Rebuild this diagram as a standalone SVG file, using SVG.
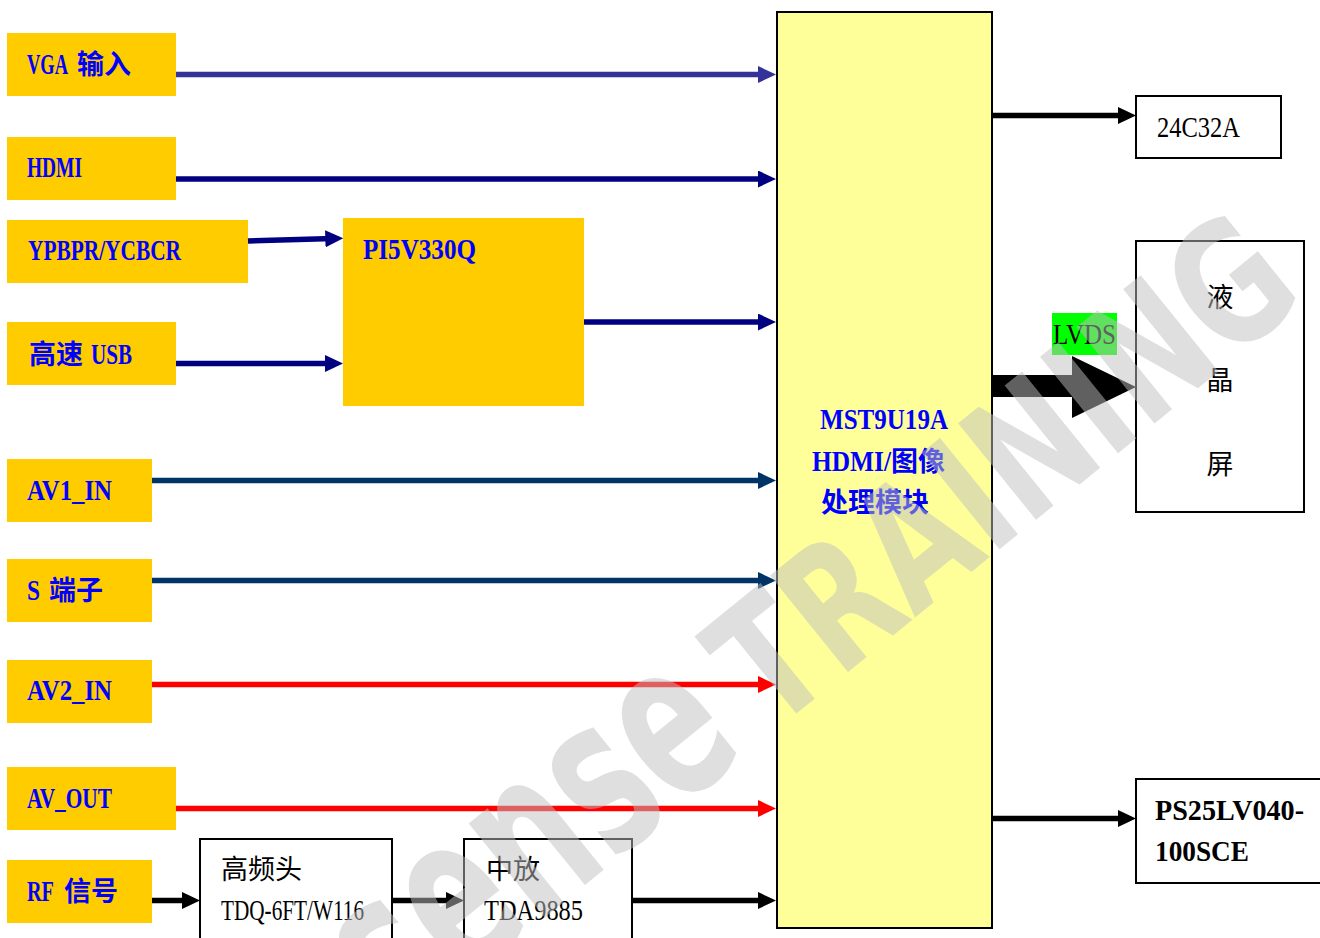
<svg xmlns="http://www.w3.org/2000/svg" width="1320" height="938" viewBox="0 0 1320 938">
<style>
.inbox{fill:#FFCC00}
.box{fill:#FFFFFF;stroke:#000000;stroke-width:2}
.lat{font-family:"Liberation Serif","Noto Sans CJK SC",serif;font-weight:bold;fill:#0000FF;font-size:30px}
.cjk{font-family:"Noto Sans CJK SC","Liberation Serif",sans-serif;font-weight:bold;fill:#0000FF;font-size:27px}
.blat{font-family:"Liberation Serif","Noto Sans CJK SC",serif;fill:#000000;font-size:30px}
.bcjk{font-family:"Noto Sans CJK SC","Liberation Serif",sans-serif;fill:#000000;font-size:27px}
.ln{fill:none;stroke-width:5.5}
.wm{font-family:"DejaVu Sans","Liberation Sans",sans-serif;font-weight:bold;fill:#C0C0C0;opacity:0.5}
</style>
<defs>
<marker id="aIndigo" markerUnits="userSpaceOnUse" markerWidth="18" markerHeight="17" refX="8" refY="8.5" orient="auto"><path d="M0,0 L18,8.5 L0,17 z" fill="#333399"/></marker>
<marker id="aNavy" markerUnits="userSpaceOnUse" markerWidth="18" markerHeight="17" refX="8" refY="8.5" orient="auto"><path d="M0,0 L18,8.5 L0,17 z" fill="#000080"/></marker>
<marker id="aTeal" markerUnits="userSpaceOnUse" markerWidth="18" markerHeight="17" refX="8" refY="8.5" orient="auto"><path d="M0,0 L18,8.5 L0,17 z" fill="#003366"/></marker>
<marker id="aRed" markerUnits="userSpaceOnUse" markerWidth="18" markerHeight="17" refX="8" refY="8.5" orient="auto"><path d="M0,0 L18,8.5 L0,17 z" fill="#FF0000"/></marker>
<marker id="aBlack" markerUnits="userSpaceOnUse" markerWidth="18" markerHeight="17" refX="8" refY="8.5" orient="auto"><path d="M0,0 L18,8.5 L0,17 z" fill="#000000"/></marker>
</defs>
<rect width="1320" height="938" fill="#FFFFFF"/>

<g id="vga">
<rect class="inbox" x="7" y="33" width="169" height="63"/>
<text class="lat" x="27" y="74" textLength="41" lengthAdjust="spacingAndGlyphs">VGA</text>
<text class="cjk" x="77" y="74">输入</text>
</g>
<g id="hdmi">
<rect class="inbox" x="7" y="137" width="169" height="63"/>
<text class="lat" x="27" y="177" textLength="55" lengthAdjust="spacingAndGlyphs">HDMI</text>
</g>
<g id="ypbpr">
<rect class="inbox" x="7" y="220" width="241" height="63"/>
<text class="lat" x="28" y="260" textLength="153" lengthAdjust="spacingAndGlyphs">YPBPR/YCBCR</text>
</g>
<g id="usb">
<rect class="inbox" x="7" y="322" width="169" height="63"/>
<text class="cjk" x="29" y="364">高速</text>
<text class="lat" x="91" y="364" textLength="41" lengthAdjust="spacingAndGlyphs">USB</text>
</g>
<g id="pi5v330q">
<rect class="inbox" x="343" y="218" width="241" height="188"/>
<text class="lat" x="363" y="259" textLength="113" lengthAdjust="spacingAndGlyphs">PI5V330Q</text>
</g>
<g id="av1">
<rect class="inbox" x="7" y="459" width="145" height="63"/>
<text class="lat" x="27" y="500" textLength="85" lengthAdjust="spacingAndGlyphs">AV1_IN</text>
</g>
<g id="sterm">
<rect class="inbox" x="7" y="559" width="145" height="63"/>
<text class="lat" x="27" y="600" textLength="13" lengthAdjust="spacingAndGlyphs">S</text>
<text class="cjk" x="49" y="600">端子</text>
</g>
<g id="av2">
<rect class="inbox" x="7" y="660" width="145" height="63"/>
<text class="lat" x="27" y="700" textLength="85" lengthAdjust="spacingAndGlyphs">AV2_IN</text>
</g>
<g id="avout">
<rect class="inbox" x="7" y="767" width="169" height="63"/>
<text class="lat" x="27" y="808" textLength="85" lengthAdjust="spacingAndGlyphs">AV_OUT</text>
</g>
<g id="rf">
<rect class="inbox" x="7" y="860" width="145" height="63"/>
<text class="lat" x="27" y="901" textLength="27" lengthAdjust="spacingAndGlyphs">RF</text>
<text class="cjk" x="64" y="901">信号</text>
</g>
<g id="tuner">
<rect class="box" x="200" y="839" width="192" height="120"/>
<text class="bcjk" x="221" y="879">高频头</text>
<text class="blat" x="221" y="920" font-size="23" textLength="143" lengthAdjust="spacingAndGlyphs">TDQ-6FT/W116</text>
</g>
<g id="if">
<rect class="box" x="464" y="839" width="168" height="120"/>
<text class="bcjk" x="486" y="879">中放</text>
<text class="blat" x="484" y="920" font-size="23" textLength="99" lengthAdjust="spacingAndGlyphs">TDA9885</text>
</g>
<g id="mst">
<rect x="777" y="12" width="215" height="916" fill="#FFFF99" stroke="#000000" stroke-width="2"/>
<text class="lat" x="820" y="429" font-size="32" textLength="128" lengthAdjust="spacingAndGlyphs">MST9U19A</text>
<text class="lat" x="812" y="471" font-size="32" textLength="79" lengthAdjust="spacingAndGlyphs">HDMI/</text>
<text class="cjk" x="891" y="471" font-size="32">图像</text>
<text class="cjk" x="821" y="512" font-size="32">处理模块</text>
</g>
<g id="eeprom">
<rect class="box" x="1136" y="96" width="145" height="62"/>
<text class="blat" x="1157" y="137" textLength="83" lengthAdjust="spacingAndGlyphs">24C32A</text>
</g>
<g id="lcd">
<rect class="box" x="1136" y="241" width="168" height="271"/>
<text class="bcjk" x="1220" y="307" font-size="35" text-anchor="middle">液</text>
<text class="bcjk" x="1220" y="390" font-size="35" text-anchor="middle">晶</text>
<text class="bcjk" x="1220" y="474" font-size="35" text-anchor="middle">屏</text>
</g>
<g id="flash">
<rect class="box" x="1136" y="779" width="194" height="104"/>
<text class="blat" x="1155" y="820" font-size="27" font-weight="bold" textLength="149" lengthAdjust="spacingAndGlyphs">PS25LV040-</text>
<text class="blat" x="1155" y="861" font-size="27" font-weight="bold" textLength="94" lengthAdjust="spacingAndGlyphs">100SCE</text>
</g>
<g id="lvds-label">
<rect x="1052" y="313" width="65" height="42" fill="#00FF00"/>
<text class="blat" x="1053" y="344" font-size="31" textLength="63" lengthAdjust="spacingAndGlyphs">LVDS</text>
</g>

<g id="connectors">
<path class="ln" d="M176,74.5 H766" stroke="#333399" marker-end="url(#aIndigo)"/>
<path class="ln" d="M176,179 H766" stroke="#000080" marker-end="url(#aNavy)"/>
<path class="ln" d="M248,241 L333.3,238.6" stroke="#000080" marker-end="url(#aNavy)"/>
<path class="ln" d="M176,363.5 H333" stroke="#000080" marker-end="url(#aNavy)"/>
<path class="ln" d="M584,322 H766" stroke="#000080" marker-end="url(#aNavy)"/>
<path class="ln" d="M152,480.5 H766" stroke="#003366" marker-end="url(#aTeal)"/>
<path class="ln" d="M152,580.5 H766" stroke="#003366" marker-end="url(#aTeal)"/>
<path class="ln" d="M152,684.5 H766" stroke="#FF0000" marker-end="url(#aRed)"/>
<path class="ln" d="M176,808.5 H766" stroke="#FF0000" marker-end="url(#aRed)"/>
<path class="ln" d="M152,900.5 H190" stroke="#000000" stroke-width="6" marker-end="url(#aBlack)"/>
<path class="ln" d="M392,900.5 H454" stroke="#000000" stroke-width="6" marker-end="url(#aBlack)"/>
<path class="ln" d="M633,900.5 H766" stroke="#000000" stroke-width="6" marker-end="url(#aBlack)"/>
<path class="ln" d="M992,115.5 H1126" stroke="#000000" stroke-width="6" marker-end="url(#aBlack)"/>
<path class="ln" d="M992,818.5 H1126" stroke="#000000" stroke-width="6" marker-end="url(#aBlack)"/>
<polygon points="992,375 1072,375 1072,356 1136,387 1072,418 1072,397 992,397" fill="#000000"/>
</g>

<g id="watermark" transform="translate(694,637) rotate(-39)">
<text class="wm" x="-480" y="124" font-size="221" textLength="450" lengthAdjust="spacingAndGlyphs">sense</text>
<text class="wm" x="0" y="124" font-size="170" textLength="690" lengthAdjust="spacingAndGlyphs">TRAINING</text>
</g>
</svg>
